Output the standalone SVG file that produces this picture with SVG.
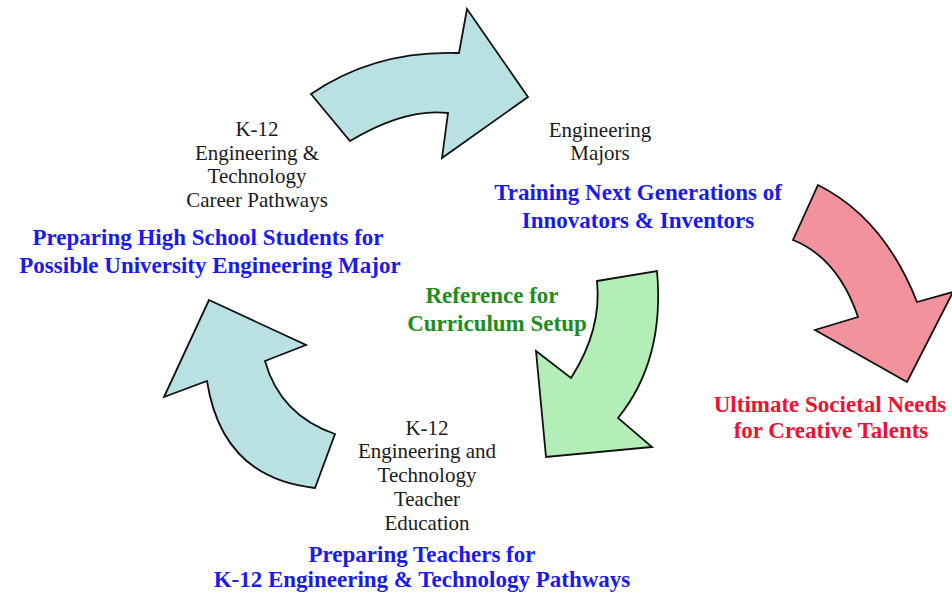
<svg xmlns="http://www.w3.org/2000/svg" width="952" height="595" viewBox="0 0 952 595">
<style>
.arr{stroke:#111;stroke-width:1.8;stroke-linejoin:miter}
.blue{fill:#b9e1e4}
.pink{fill:#f2929c}
.green{fill:#b3eeb6}
text{font-family:"Liberation Serif","Times New Roman",serif;text-anchor:middle}
.k{font-size:21px;fill:#1a1a1a}
.hb{font-size:23px;font-weight:bold;fill:#1a1aee}
.hg{font-size:23px;font-weight:bold;fill:#1e8c1e}
.hr{font-size:23px;font-weight:bold;fill:#ec1233}
</style>
<rect width="952" height="595" fill="#fff"/>
<g id="connectors">
<path id="arrow-top" class="arr blue" d="M311,94 Q375,50 459,53 L467,9 L528,97 L442,158 L448,113 Q405,108 350,141 Z"/>
<path id="arrow-red" class="arr pink" d="M818,185 Q884,218 917,302 L953,292 L907,382 L815,330 L858,317 Q838,258 793,240 Z"/>
<path id="arrow-green" class="arr green" d="M597,281 L657,271 Q665,360 618,418 L652,447 L546,457 L536,351 L571,378 Q602,330 597,281 Z"/>
<path id="arrow-left" class="arr blue" d="M209,300 L306,345 L265,361 Q280,415 335,434 L315,488 Q222,478 207,381 L164,397 Z"/>
</g>
<g id="node-highschool">
<text class="k" x="257" y="136">K-12</text>
<text class="k" x="257" y="160">Engineering &amp;</text>
<text class="k" x="257" y="183">Technology</text>
<text class="k" x="257" y="207">Career Pathways</text>
<text class="hb" x="208" y="245">Preparing High School Students for</text>
<text class="hb" x="210" y="273">Possible University Engineering Major</text>
</g>
<g id="node-majors">
<text class="k" x="600" y="137">Engineering</text>
<text class="k" x="600" y="160">Majors</text>
<text class="hb" x="638" y="200">Training Next Generations of</text>
<text class="hb" x="638" y="228">Innovators &amp; Inventors</text>
</g>
<g id="node-curriculum">
<text class="hg" x="492" y="303">Reference for</text>
<text class="hg" x="497" y="331">Curriculum Setup</text>
</g>
<g id="node-societal">
<text class="hr" x="830" y="412">Ultimate Societal Needs</text>
<text class="hr" x="831" y="438">for Creative Talents</text>
</g>
<g id="node-teachers">
<text class="k" x="427" y="435">K-12</text>
<text class="k" x="427" y="458">Engineering and</text>
<text class="k" x="427" y="482">Technology</text>
<text class="k" x="427" y="506">Teacher</text>
<text class="k" x="427" y="530">Education</text>
<text class="hb" x="422" y="562">Preparing Teachers for</text>
<text class="hb" x="422" y="587">K-12 Engineering &amp; Technology Pathways</text>
</g>
</svg>
